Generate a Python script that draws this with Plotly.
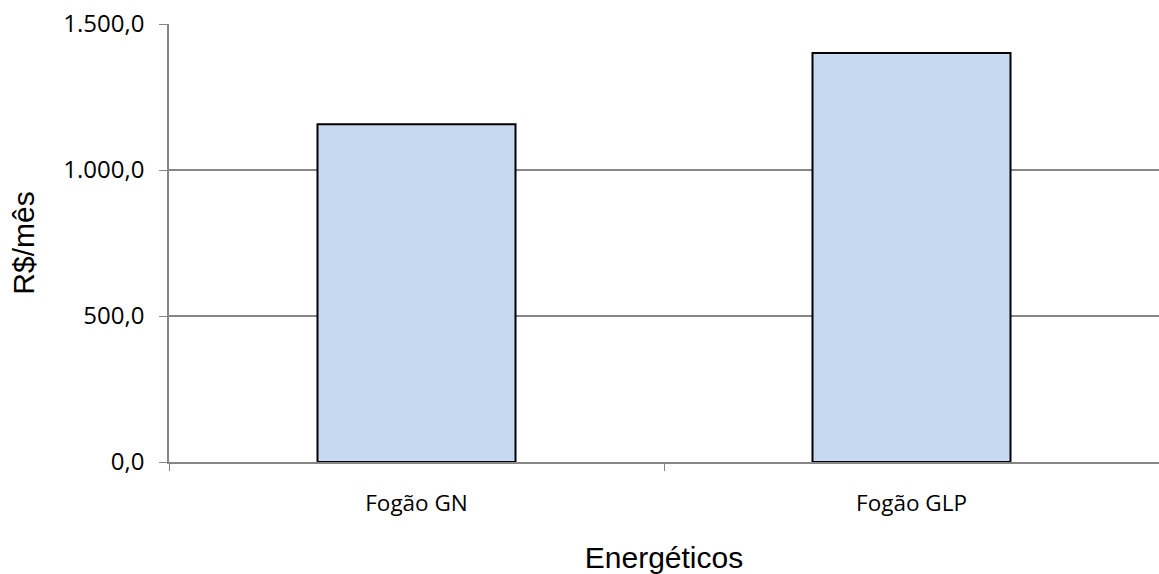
import plotly.graph_objects as go

# Monthly cost per cooking energy source
categories = ["Fogão GN", "Fogão GLP"]
custo_mensal = [1157, 1401]

y_ticks = [0, 500, 1000, 1500]
y_tick_labels = ["0,0", "500,0", "1.000,0", "1.500,0"]

GRID = "#868686"

fig = go.Figure(
    go.Bar(
        x=categories,
        y=custo_mensal,
        width=0.4,
        marker=dict(color="#C6D9F1", line=dict(color="black", width=2)),
    )
)

fig.update_layout(
    width=1159,
    height=574,
    margin=dict(l=169, r=0, t=24, b=112),
    paper_bgcolor="white",
    plot_bgcolor="white",
    showlegend=False,
    bargap=0.6,
)

fig.update_xaxes(
    type="category",
    tickson="boundaries",
    ticks="outside",
    ticklen=7,
    tickcolor=GRID,
    tickwidth=1.3,
    showline=True,
    linecolor=GRID,
    linewidth=1.5,
    showgrid=False,
    tickfont=dict(family="Open Sans", size=22.5, color="black"),
    ticklabelstandoff=20,
    title=dict(
        text="Energéticos",
        font=dict(family="Liberation Sans, Arial", size=30, color="black"),
        standoff=30,
    ),
)

fig.update_yaxes(
    range=[0, 1500],
    tickvals=y_ticks,
    ticktext=y_tick_labels,
    ticks="outside",
    ticklen=8,
    tickcolor=GRID,
    tickwidth=1.3,
    showline=True,
    linecolor=GRID,
    linewidth=1.5,
    showgrid=True,
    gridcolor=GRID,
    gridwidth=1.5,
    zeroline=False,
    tickfont=dict(family="Open Sans", size=24, color="black"),
    ticklabelstandoff=10,
    title=dict(
        text="R$/mês",
        font=dict(family="Liberation Sans, Arial", size=30, color="black"),
        standoff=20,
    ),
)

fig.write_html("out.html")
